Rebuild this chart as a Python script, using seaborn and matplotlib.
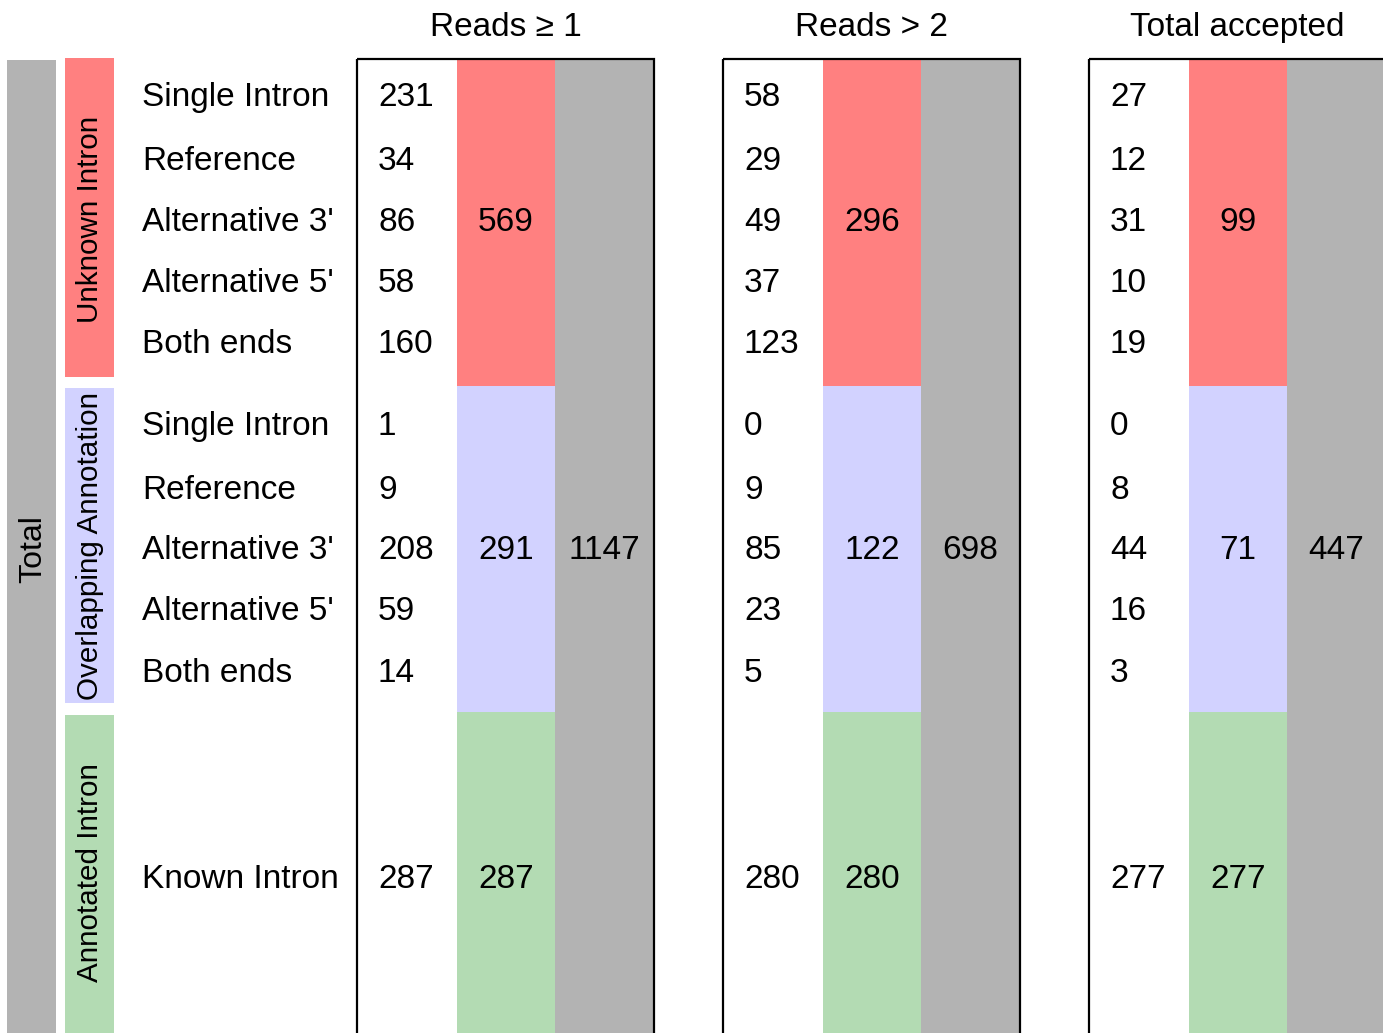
import numpy as np
import matplotlib
matplotlib.use('Agg')
import matplotlib.pyplot as plt
import seaborn as sns

# Data
groups = ['Unknown Intron', 'Overlapping Annotation', 'Annotated Intron']
unknown_rows = ['Single Intron', 'Reference', "Alternative 3'", "Alternative 5'", 'Both ends']
overlap_rows = ['Single Intron', 'Reference', "Alternative 3'", "Alternative 5'", 'Both ends']
annotated_rows = ['Known Intron']
columns = ['Reads \u2265 1', 'Reads > 2', 'Total accepted']

unknown_counts = [[231, 34, 86, 58, 160], [58, 29, 49, 37, 123], [27, 12, 31, 10, 19]]
overlap_counts = [[1, 9, 208, 59, 14], [0, 9, 85, 23, 5], [0, 8, 44, 16, 3]]
annotated_counts = [[287], [280], [277]]

group_colors = ['#FF8080', '#D2D2FF', '#B3DBB3']
gray = '#B3B3B3'

sns.set_theme(style='white')
plt.rcParams['font.family'] = ['Liberation Sans', 'DejaVu Sans']
plt.rcParams['text.color'] = 'black'

fig = plt.figure(figsize=(13.83, 10.33), dpi=100)
ax = fig.add_axes([0, 0, 1, 1])
ax.set_xlim(0, 1383)
# one section = 5 row units, top of table at y=0
unit = 65.33
ax.set_ylim((1033 - 59) / unit, -59 / unit)
ax.axis('off')

sec_h = 5
row_offsets = [-1.91, -0.93, 0, 0.93, 1.87]
fs = 24
bar_kw = dict(linewidth=0, edgecolor='none')

group_rows = [unknown_rows, overlap_rows, annotated_rows]
group_counts = [unknown_counts, overlap_counts, annotated_counts]

# left "Total" strip
ax.bar(31.5, 3 * sec_h, bottom=0.015, width=49, color=gray, **bar_kw)
ax.text(33, 7.5, 'Total', rotation=90, ha='center', va='center', fontsize=23)

def row_pos(g, n):
    mid = g * sec_h + 2.5 + 0.03 * g
    if n == 1:
        return [mid]
    return [mid + o for o in row_offsets[:n]]

for g, (name, rows) in enumerate(zip(groups, group_rows)):
    start = g * sec_h
    top = start + 0.04 if g > 0 else -0.015
    bottom = start + sec_h - 0.14 if g < 2 else start + sec_h + 0.5
    ax.bar(89.5, bottom - top, bottom=top, width=49,
           color=group_colors[g], **bar_kw)
    ax.text(90, start + 2.45, name, rotation=90, ha='center', va='center',
            fontsize=21.3)
    for lab, y in zip(rows, row_pos(g, len(rows))):
        ax.text(142, y, lab, ha='left', va='center', fontsize=fs)

panel_left = 357
panel_pitch = 366
panel_w = 297
for c, col in enumerate(columns):
    x0 = panel_left + c * panel_pitch
    ax.text(x0 + panel_w / 2, -0.48, col, ha='center', va='center', fontsize=fs)
    total = 0
    for g in range(3):
        counts = group_counts[g][c]
        sub = sum(counts)
        total += sub
        ax.bar(x0 + 149, sec_h, bottom=g * sec_h, width=98,
               color=group_colors[g], **bar_kw)
        ys = row_pos(g, len(counts))
        for v, y in zip(counts, ys):
            ax.text(x0 + 21, y, str(v), ha='left', va='center', fontsize=fs)
        ax.text(x0 + 149, ys[len(ys) // 2], str(sub), ha='center', va='center',
                fontsize=fs)
    ax.bar(x0 + 247.5, 3 * sec_h, bottom=0, width=99, color=gray, **bar_kw)
    ax.text(x0 + 247.5, 7.5 + 0.03, str(total), ha='center', va='center',
            fontsize=fs)
    ax.add_patch(plt.Rectangle((x0, 0), panel_w, 3 * sec_h + 1, fill=False,
                               edgecolor='black', lw=1.6, zorder=5))

fig.savefig('out.png', dpi=100)
